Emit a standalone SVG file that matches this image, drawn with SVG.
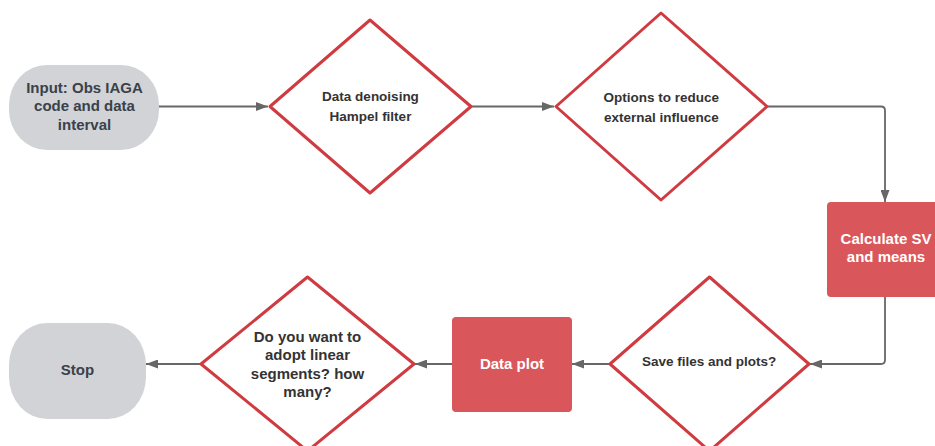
<svg xmlns="http://www.w3.org/2000/svg" width="935" height="446" viewBox="0 0 935 446">
<defs>
<style>
.term{fill:#d1d3d6;}
.dia{fill:#ffffff;stroke:#cf3b40;stroke-width:3;stroke-linejoin:round;}
.proc{fill:#d9575a;}
.conn{fill:none;stroke:#676767;stroke-width:1.8;}
.t{font-family:"Liberation Sans",Arial,sans-serif;font-weight:bold;text-anchor:middle;}
.dk{fill:#3a414a;font-size:15px;}
.dd{fill:#333333;font-size:13.5px;}
.dd15{fill:#333333;font-size:15px;}
.wt{fill:#ffffff;font-size:15px;}
</style>
<marker id="ah" markerUnits="userSpaceOnUse" markerWidth="12" markerHeight="9" refX="12" refY="4.5" orient="auto">
<path d="M0,0 L12,4.5 L0,9 z" fill="#676767"/>
</marker>
</defs>
<rect width="935" height="446" fill="#ffffff"/>
<g id="connectors">
<path class="conn" d="M159 106.5 H268" marker-end="url(#ah)"/>
<path class="conn" d="M471 106.5 H554" marker-end="url(#ah)"/>
<path class="conn" d="M767 106.5 H881 Q885 106.5 885 110.5 V202" marker-end="url(#ah)"/>
<path class="conn" d="M885 297 V360 Q885 364 881 364 H810" marker-end="url(#ah)"/>
<path class="conn" d="M610 364 H572" marker-end="url(#ah)"/>
<path class="conn" d="M452 364 H415" marker-end="url(#ah)"/>
<path class="conn" d="M201 364 H146" marker-end="url(#ah)"/>
</g>
<g id="input">
<rect class="term" x="9" y="65" width="150" height="85" rx="38" ry="40"/>
<text class="t dk" x="84.5" y="93">Input: Obs IAGA</text>
<text class="t dk" x="84.5" y="111.3">code and data</text>
<text class="t dk" x="84.5" y="129.6">interval</text>
</g>
<g id="denoise">
<path class="dia" d="M370 20 L471 106.5 L370 193 L270 106.5 Z"/>
<text class="t dd" x="370.5" y="100.8">Data denoising</text>
<text class="t dd" x="370.5" y="120.8">Hampel filter</text>
</g>
<g id="options">
<path class="dia" d="M661 13 L767 106.5 L661 200 L556 106.5 Z"/>
<text class="t dd" x="661.3" y="101.8">Options to reduce</text>
<text class="t dd" x="661.3" y="121.5">external influence</text>
</g>
<g id="calc">
<rect class="proc" x="827" y="202" width="120" height="95" rx="4"/>
<text class="t wt" x="886" y="243.7">Calculate SV</text>
<text class="t wt" x="886" y="262">and means</text>
</g>
<g id="save">
<path class="dia" d="M709.5 277 L809 364 L709.5 451 L610 364 Z"/>
<text class="t dd" x="709.2" y="365.5">Save files and plots?</text>
</g>
<g id="plot">
<rect class="proc" x="452" y="317" width="120" height="95" rx="4"/>
<text class="t wt" x="512" y="369.4">Data plot</text>
</g>
<g id="segments">
<path class="dia" d="M307.5 277 L414 364 L307.5 451 L201 364 Z"/>
<text class="t dd15" x="307.5" y="342">Do you want to</text>
<text class="t dd15" x="307.5" y="360.4">adopt linear</text>
<text class="t dd15" x="307.5" y="378.7">segments? how</text>
<text class="t dd15" x="307.5" y="397">many?</text>
</g>
<g id="stop">
<rect class="term" x="9" y="323" width="137" height="96" rx="38" ry="42"/>
<text class="t dk" x="77.5" y="375.4">Stop</text>
</g>
</svg>
